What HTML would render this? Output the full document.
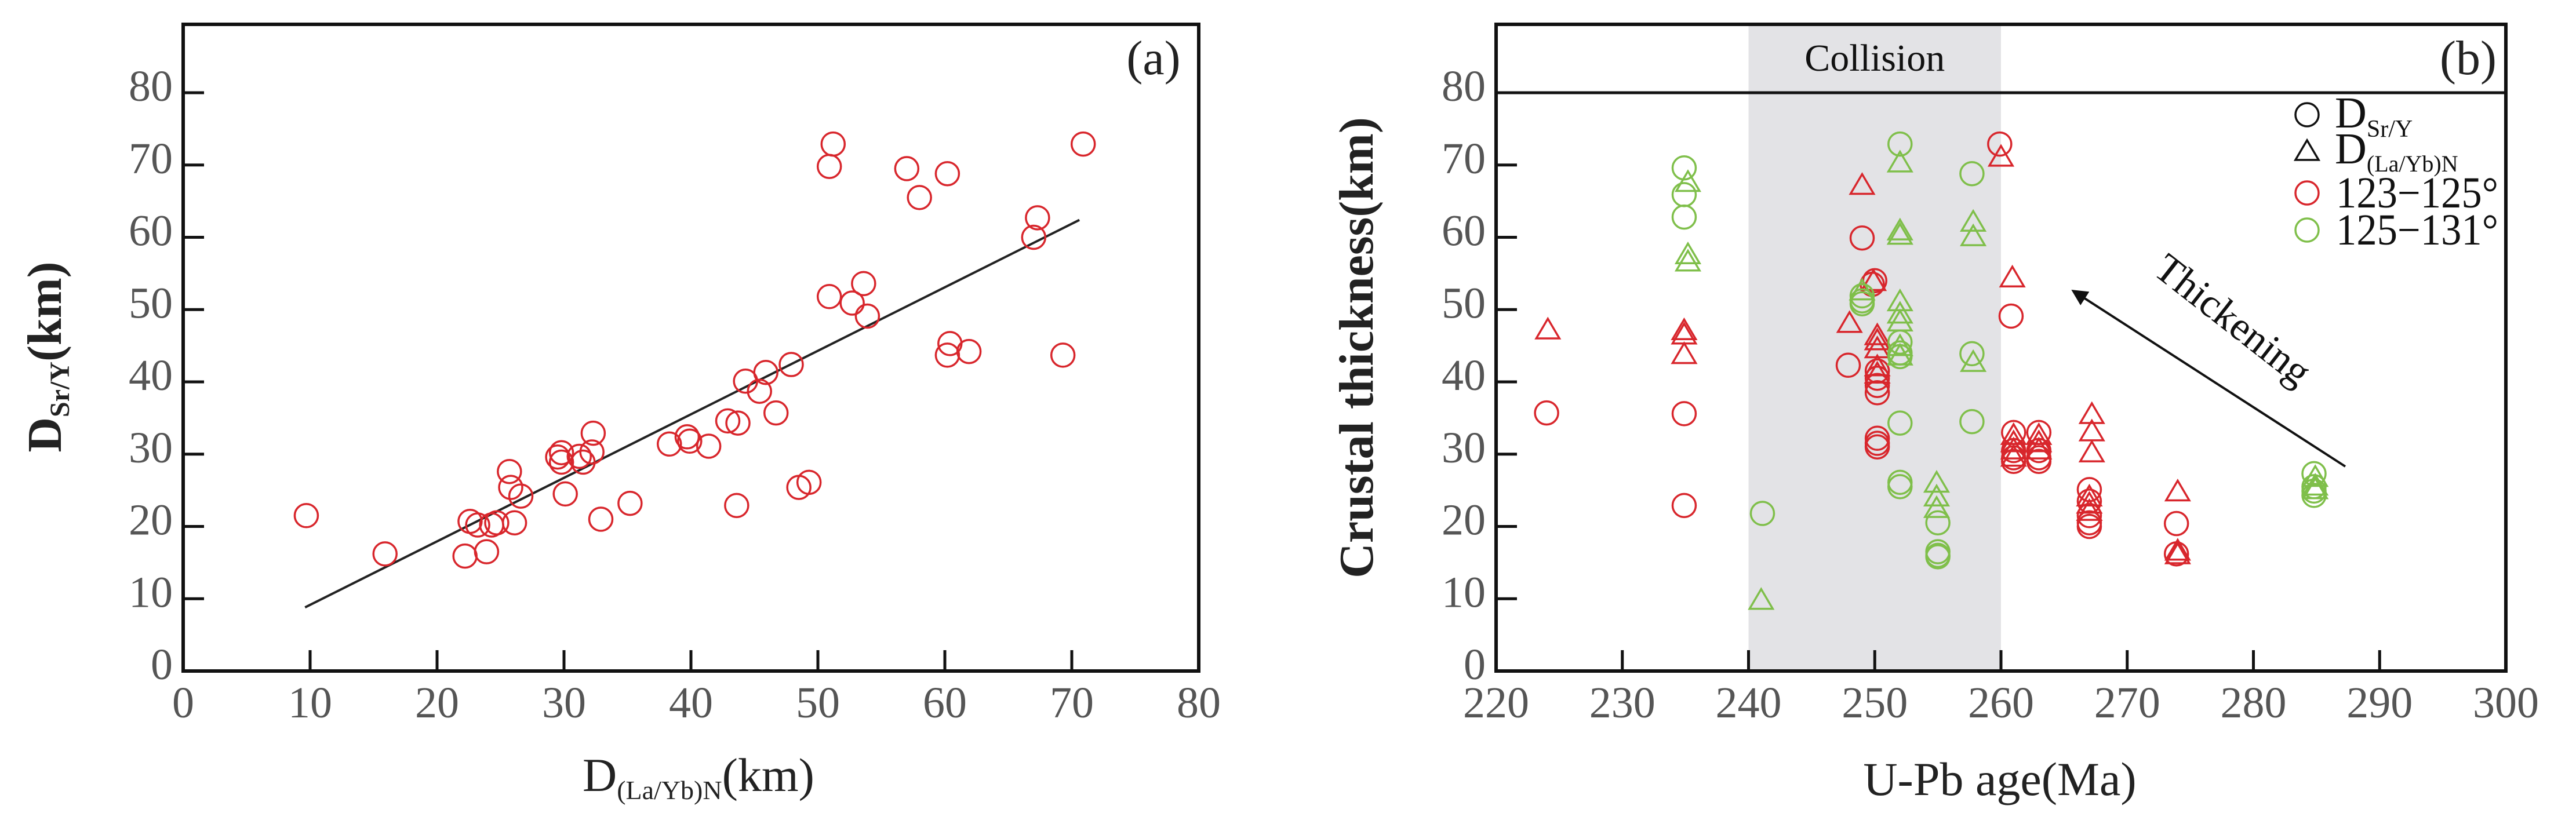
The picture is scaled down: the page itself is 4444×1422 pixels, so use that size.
<!DOCTYPE html>
<html><head><meta charset="utf-8"><style>
html,body{margin:0;padding:0;background:#fff;}
svg{display:block;}
text{font-family:"Liberation Serif",serif;}
</style></head><body>
<svg id="fig" width="4444" height="1422" viewBox="0 0 4444 1422" xmlns="http://www.w3.org/2000/svg">
<g id="pa"></g>
<g id="pb"></g>
</svg>
<script>
// Panel (a) data
const aX = [9.7,15.9,22.2,22.6,23.2,23.9,24.3,24.7,25.7,25.8,26.1,26.6,29.5,29.8,29.8,30.1,31.2,31.5,32.3,32.2,32.9,35.2,38.3,39.7,39.9,41.4,42.9,43.7,43.6,44.3,45.4,45.9,46.7,47.9,48.5,49.3,50.9,50.9,51.2,52.7,53.6,53.9,57.0,58.0,60.2,60.2,60.4,61.9,67.0,67.3,69.3,70.9];
const aY = [21.5,16.2,15.9,20.7,20.2,16.5,20.2,20.5,27.6,25.4,20.5,24.2,29.6,30.2,28.9,24.5,29.7,28.9,32.9,30.3,21.0,23.2,31.4,32.4,31.8,31.1,34.6,34.3,22.9,40.1,38.7,41.3,35.7,42.4,25.4,26.1,51.8,69.8,72.9,50.9,53.6,49.1,69.5,65.5,68.8,43.7,45.3,44.2,60.0,62.7,43.7,72.9];
const aFitX = [9.6,70.6];
const aFitY = [8.8,62.4];
const aXTicks = [0,10,20,30,40,50,60,70,80];
const aYTicks = [0,10,20,30,40,50,60,70,80];

// Panel (b) data
const redCircAge = [224.0,234.9,234.9,247.9,249.0,249.8,250.0,250.2,250.2,250.2,250.2,250.2,250.2,250.2,259.9,260.8,261,261,261,261,263,263,263,263,267,267,267,267,267,273.9,273.9];
const redCircVal = [35.7,35.6,22.9,42.3,59.9,53.5,54.0,38.5,39.5,40.5,41.5,32.2,31.5,31.0,72.9,49.1,33.0,30.5,29.5,29.0,33.0,30.5,29.5,29.0,25.1,23.5,21.5,20.5,20.0,20.4,16.2];
const redTriAge = [224.1,234.9,234.9,234.9,249.0,248.0,249.9,250.2,250.2,250.2,250.2,250.2,260.0,260.9,261,261,261,261,263,263,263,267.2,267.2,267.2,267,267,267,274.0,274.0,274.0];
const redTriVal = [47.1,47.0,46.4,43.7,67.1,48.0,53.8,45.6,44.5,46.3,41.0,42.0,71.0,54.3,32.5,31.5,30.5,29.5,32.5,31.5,30.5,35.4,33.0,30.1,24.0,23.0,22.0,24.7,16.0,16.5];
const grnCircAge = [234.9,234.9,234.9,241.1,249,249,249,252.0,252,252,252,252,252,252,255,255,255,255,257.7,257.7,257.7,284.8,284.8,284.8,284.8];
const grnCircVal = [69.6,65.9,62.8,21.8,51.9,51.2,50.8,72.9,45.5,44.0,43.5,34.3,26.1,25.5,20.5,16.5,16.0,15.8,68.8,43.9,34.5,27.3,24.9,24.3,25.5];
const grnTriAge = [235.2,235.2,235.2,241.0,249.0,252.0,252,252,252,252,252,252,252,254.9,254.9,254.9,257.8,257.8,257.8,284.9,284.9,284.9];
const grnTriVal = [67.5,57.5,56.5,9.7,52.5,70.2,60.8,60.2,51.0,49.3,48.2,44.8,43.5,25.9,24.0,22.4,62.0,60.0,42.6,26.7,25.5,25.0];
const bXTicks = [220,230,240,250,260,270,280,290,300];
const bYTicks = [0,10,20,30,40,50,60,70,80];
const collision = [240,260];

const NS = 'http://www.w3.org/2000/svg';
const RED = '#d8262c', GRN = '#7fbf4a';
function mk(parent, tag, attrs){ const e=document.createElementNS(NS,tag); for(const k in attrs) e.setAttribute(k,attrs[k]); parent.appendChild(e); return e; }

const A = {l:316, r:2068, t:42, b:1158, x0:0, x1:80, y0:0, y1:80};
const B = {l:2581, r:4323, t:42, b:1158, x0:220, x1:300, y0:0, y1:80};
function sx(P,v){ return P.l + (v-P.x0)/(P.x1-P.x0)*(P.r-P.l); }
function sy(P,v){ return P.b - (v-P.y0)/(P.y1-P.y0)*(P.b-160); }

function circle(g,x,y,c,name){
  const e = mk(g,'circle',{cx:x,cy:y,r:20,fill:'none',stroke:c,'stroke-width':3.5});
  
  
  return e;
}
function tri(g,x,y,c,name){
  const h=34, w=40;
  const e = mk(g,'polygon',{points:`${x},${y-h*0.6} ${x-w/2},${y+h*0.4} ${x+w/2},${y+h*0.4}`,fill:'none',stroke:c,'stroke-width':3.5});
  
  
  return e;
}

function axes(g,P,xt,yt,skipTopY){
  xt.forEach(v=>{
    const x=sx(P,v);
    if(v!==P.x0 && v!==P.x1){ const t=mk(g,'line',{x1:x,y1:P.b,x2:x,y2:P.b-36,stroke:'#111','stroke-width':5});
        }
    const lb=mk(g,'text',{x:x,y:P.b+80,'font-size':76,fill:'#555','text-anchor':'middle'});
    lb.textContent=v;
    
    
  });
  yt.forEach(v=>{
    const y=sy(P,v);
    if(v!==P.y0 && !(skipTopY && v===80)){ const t=mk(g,'line',{x1:P.l,y1:y,x2:P.l+36,y2:y,stroke:'#111','stroke-width':5});
        }
    const lb=mk(g,'text',{x:P.l-18,y:y+14,'font-size':76,fill:'#555','text-anchor':'end'});
    lb.textContent=v;
    
    
  });
  const fr=mk(g,'rect',{x:P.l,y:P.t,width:P.r-P.l,height:P.b-P.t,fill:'none',stroke:'#111','stroke-width':6});
  
  
}

const ga=document.getElementById('pa');
axes(ga,A,aXTicks,aYTicks,false);
const fit=mk(ga,'line',{x1:sx(A,aFitX[0]),y1:sy(A,aFitY[0]),x2:sx(A,aFitX[1]),y2:sy(A,aFitY[1]),stroke:'#222','stroke-width':4});


aX.forEach((v,i)=>circle(ga,sx(A,v),sy(A,aY[i]),RED,'sample-point'));
</script>
<script>
const gb=document.getElementById('pb');
const sh=mk(gb,'rect',{x:sx(B,collision[0]),y:B.t,width:sx(B,collision[1])-sx(B,collision[0]),height:B.b-B.t,fill:'#e3e3e6'});


const ct=mk(gb,'text',{x:(sx(B,collision[0])+sx(B,collision[1]))/2,y:122,'font-size':66,fill:'#111','text-anchor':'middle'});
ct.textContent='Collision';


const hl=mk(gb,'line',{x1:B.l,y1:sy(B,80),x2:B.r,y2:sy(B,80),stroke:'#111','stroke-width':5});


axes(gb,B,bXTicks,bYTicks,true);
redCircAge.forEach((v,i)=>circle(gb,sx(B,v),sy(B,redCircVal[i]),RED,'red-sr-y-point'));
redTriAge.forEach((v,i)=>tri(gb,sx(B,v),sy(B,redTriVal[i]),RED,'red-la-yb-point'));
grnCircAge.forEach((v,i)=>circle(gb,sx(B,v),sy(B,grnCircVal[i]),GRN,'green-sr-y-point'));
grnTriAge.forEach((v,i)=>tri(gb,sx(B,v),sy(B,grnTriVal[i]),GRN,'green-la-yb-point'));
</script>
<svg style="position:absolute;left:0;top:0" width="4444" height="1422" viewBox="0 0 4444 1422" xmlns="http://www.w3.org/2000/svg">
  <defs><marker id="ah" viewBox="0 0 10 10" refX="8" refY="5" markerWidth="7" markerHeight="7" orient="auto"><path d="M0,0 L10,5 L0,10 z" fill="#111"/></marker></defs>
  <text x="1990" y="128" font-size="84" fill="#222" text-anchor="middle">(a)</text>
  <text x="4258" y="128" font-size="84" fill="#222" text-anchor="middle">(b)</text>
  <text x="1205" y="1365" font-size="82" fill="#222" text-anchor="middle">D<tspan font-size="46" dy="14">(La/Yb)N</tspan><tspan dy="-14">(km)</tspan></text>
  <text transform="translate(105,616) rotate(-90)" font-size="84" font-weight="bold" fill="#222" text-anchor="middle">D<tspan font-size="48" dy="14">Sr/Y</tspan><tspan dy="-14">(km)</tspan></text>
  <text x="3450" y="1372" font-size="82" fill="#222" text-anchor="middle">U-Pb age(Ma)</text>
  <text transform="translate(2368,600) rotate(-90)" font-size="84" font-weight="bold" fill="#222" text-anchor="middle">Crustal thickness(km)</text>
  <line x1="4046" y1="805" x2="3578" y2="503" stroke="#111" stroke-width="4" marker-end="url(#ah)"/>
  <text transform="translate(3838,570) rotate(38)" font-size="70" fill="#111" text-anchor="middle" textLength="320" lengthAdjust="spacingAndGlyphs">Thickening</text>
  <g>
    <circle cx="3980" cy="198" r="20" fill="none" stroke="#111" stroke-width="3.5"/>
    <text x="4028" y="220" font-size="76" fill="#111">D<tspan font-size="42" dy="16">Sr/Y</tspan></text>
    <polygon points="3980,242 3960,276 4000,276" fill="none" stroke="#111" stroke-width="3.5"/>
    <text x="4028" y="282" font-size="76" fill="#111">D<tspan font-size="40" dy="14">(La/Yb)N</tspan></text>
    <circle cx="3980" cy="333" r="20" fill="none" stroke="#d8262c" stroke-width="3.5"/>
    <text x="4030" y="358" font-size="76" fill="#111" textLength="280" lengthAdjust="spacingAndGlyphs">123−125°</text>
    <circle cx="3980" cy="397" r="20" fill="none" stroke="#7fbf4a" stroke-width="3.5"/>
    <text x="4030" y="422" font-size="76" fill="#111" textLength="280" lengthAdjust="spacingAndGlyphs">125−131°</text>
  </g>
</svg>
</body></html>
